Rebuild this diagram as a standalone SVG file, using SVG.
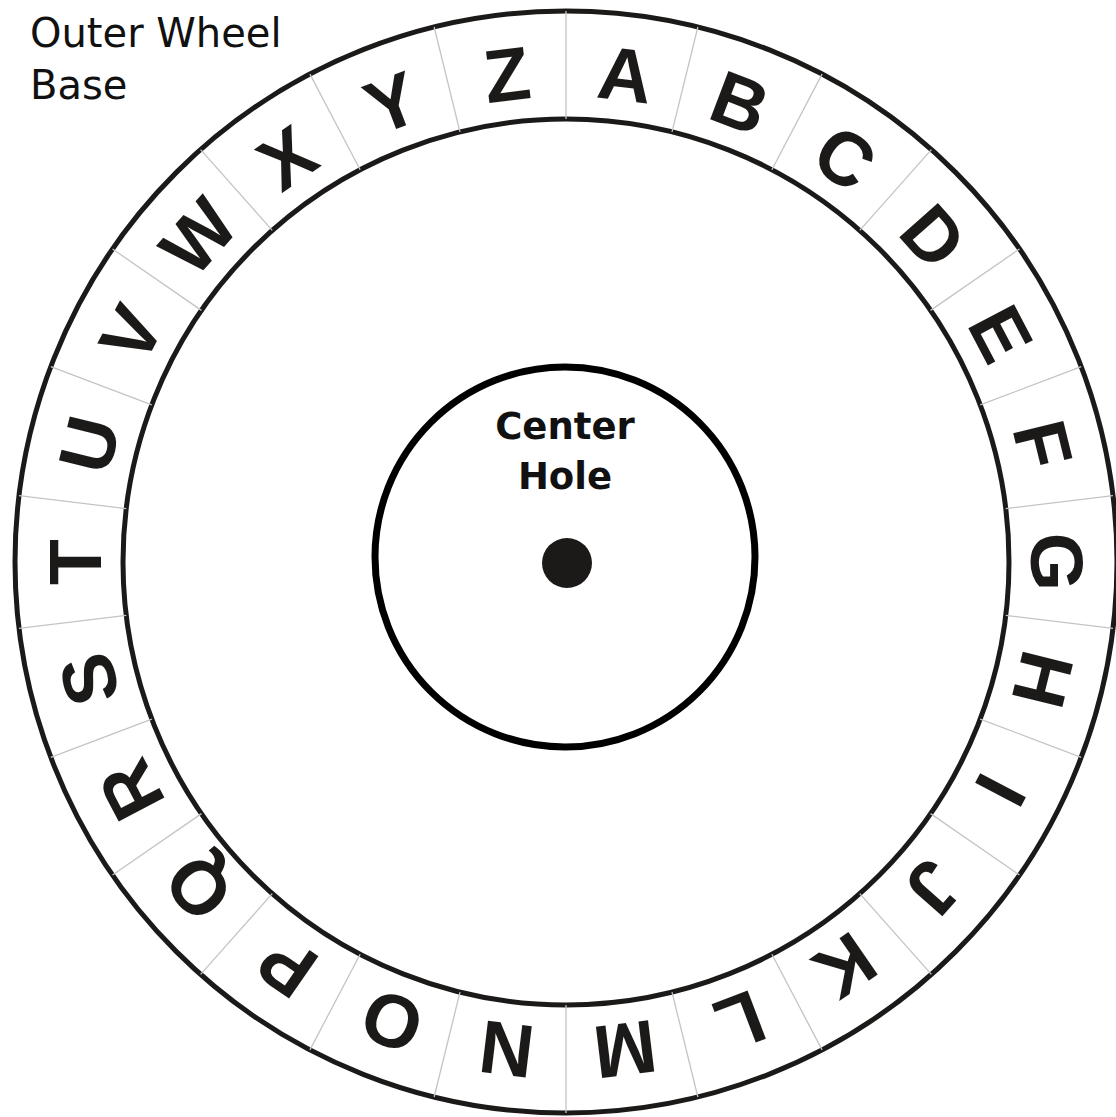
<svg xmlns="http://www.w3.org/2000/svg" width="1116" height="1117" viewBox="0 0 1116 1117">
  <style>
    .ring { fill: none; stroke: #1c1a19; stroke-width: 5; }
    .hole { fill: none; stroke: #000; stroke-width: 7; }
    .div { stroke: #c4c4c4; stroke-width: 1.3; }
    .let { font-family: "Liberation Sans", Arial, sans-serif; font-weight: bold; font-size: 75px; fill: #1c1a19; text-anchor: middle; }
    .lbl { font-family: "DejaVu Sans", sans-serif; font-weight: normal; font-size: 40px; fill: #111; }
    .ctr { font-family: "DejaVu Sans", sans-serif; font-weight: bold; font-size: 37px; fill: #111; text-anchor: middle; }
  </style>
  <rect width="1116" height="1117" fill="#fff"/>
  <g id="outer-wheel-base">
    <circle class="ring" cx="566" cy="562" r="551"/>
    <circle class="ring" cx="566" cy="562" r="443"/>
    <g id="dividers" transform="translate(566,562)">
      <line class="div" x1="0" y1="-443" x2="0" y2="-551" transform="rotate(0)"/>
      <line class="div" x1="0" y1="-443" x2="0" y2="-551" transform="rotate(13.846)"/>
      <line class="div" x1="0" y1="-443" x2="0" y2="-551" transform="rotate(27.692)"/>
      <line class="div" x1="0" y1="-443" x2="0" y2="-551" transform="rotate(41.538)"/>
      <line class="div" x1="0" y1="-443" x2="0" y2="-551" transform="rotate(55.385)"/>
      <line class="div" x1="0" y1="-443" x2="0" y2="-551" transform="rotate(69.231)"/>
      <line class="div" x1="0" y1="-443" x2="0" y2="-551" transform="rotate(83.077)"/>
      <line class="div" x1="0" y1="-443" x2="0" y2="-551" transform="rotate(96.923)"/>
      <line class="div" x1="0" y1="-443" x2="0" y2="-551" transform="rotate(110.769)"/>
      <line class="div" x1="0" y1="-443" x2="0" y2="-551" transform="rotate(124.615)"/>
      <line class="div" x1="0" y1="-443" x2="0" y2="-551" transform="rotate(138.462)"/>
      <line class="div" x1="0" y1="-443" x2="0" y2="-551" transform="rotate(152.308)"/>
      <line class="div" x1="0" y1="-443" x2="0" y2="-551" transform="rotate(166.154)"/>
      <line class="div" x1="0" y1="-443" x2="0" y2="-551" transform="rotate(180)"/>
      <line class="div" x1="0" y1="-443" x2="0" y2="-551" transform="rotate(193.846)"/>
      <line class="div" x1="0" y1="-443" x2="0" y2="-551" transform="rotate(207.692)"/>
      <line class="div" x1="0" y1="-443" x2="0" y2="-551" transform="rotate(221.538)"/>
      <line class="div" x1="0" y1="-443" x2="0" y2="-551" transform="rotate(235.385)"/>
      <line class="div" x1="0" y1="-443" x2="0" y2="-551" transform="rotate(249.231)"/>
      <line class="div" x1="0" y1="-443" x2="0" y2="-551" transform="rotate(263.077)"/>
      <line class="div" x1="0" y1="-443" x2="0" y2="-551" transform="rotate(276.923)"/>
      <line class="div" x1="0" y1="-443" x2="0" y2="-551" transform="rotate(290.769)"/>
      <line class="div" x1="0" y1="-443" x2="0" y2="-551" transform="rotate(304.615)"/>
      <line class="div" x1="0" y1="-443" x2="0" y2="-551" transform="rotate(318.462)"/>
      <line class="div" x1="0" y1="-443" x2="0" y2="-551" transform="rotate(332.308)"/>
      <line class="div" x1="0" y1="-443" x2="0" y2="-551" transform="rotate(346.154)"/>
    </g>
    <g id="letters" transform="translate(566,562)">
      <text class="let" x="0" y="-465" transform="rotate(6.923)">A</text>
      <text class="let" x="0" y="-465" transform="rotate(20.769)">B</text>
      <text class="let" x="0" y="-465" transform="rotate(34.615)">C</text>
      <text class="let" x="0" y="-465" transform="rotate(48.462)">D</text>
      <text class="let" x="0" y="-465" transform="rotate(62.308)">E</text>
      <text class="let" x="0" y="-465" transform="rotate(76.154)">F</text>
      <text class="let" x="0" y="-465" transform="rotate(90)">G</text>
      <text class="let" x="0" y="-465" transform="rotate(103.846)">H</text>
      <text class="let" x="0" y="-465" transform="rotate(117.692)">I</text>
      <text class="let" x="0" y="-465" transform="rotate(131.538)">J</text>
      <text class="let" x="0" y="-465" transform="rotate(145.385)">K</text>
      <text class="let" x="0" y="-465" transform="rotate(159.231)">L</text>
      <text class="let" x="0" y="-465" transform="rotate(173.077)">M</text>
      <text class="let" x="0" y="-465" transform="rotate(186.923)">N</text>
      <text class="let" x="0" y="-465" transform="rotate(200.769)">O</text>
      <text class="let" x="0" y="-465" transform="rotate(214.615)">P</text>
      <text class="let" x="0" y="-465" transform="rotate(228.462)">Q</text>
      <text class="let" x="0" y="-465" transform="rotate(242.308)">R</text>
      <text class="let" x="0" y="-465" transform="rotate(256.154)">S</text>
      <text class="let" x="0" y="-465" transform="rotate(270)">T</text>
      <text class="let" x="0" y="-465" transform="rotate(283.846)">U</text>
      <text class="let" x="0" y="-465" transform="rotate(297.692)">V</text>
      <text class="let" x="0" y="-465" transform="rotate(311.538)">W</text>
      <text class="let" x="0" y="-465" transform="rotate(325.385)">X</text>
      <text class="let" x="0" y="-465" transform="rotate(339.231)">Y</text>
      <text class="let" x="0" y="-465" transform="rotate(353.077)">Z</text>
    </g>
  </g>
  <g id="center-hole">
    <circle class="hole" cx="565" cy="557" r="190"/>
    <circle cx="567" cy="563" r="25" fill="#1c1a19"/>
    <text class="ctr" x="565" y="439">Center</text>
    <text class="ctr" x="565" y="489">Hole</text>
  </g>
  <g id="label-outer-wheel">
    <text class="lbl" x="30" y="47">Outer Wheel</text>
    <text class="lbl" x="30" y="99">Base</text>
  </g>
  <g id="connectors"/>
</svg>
